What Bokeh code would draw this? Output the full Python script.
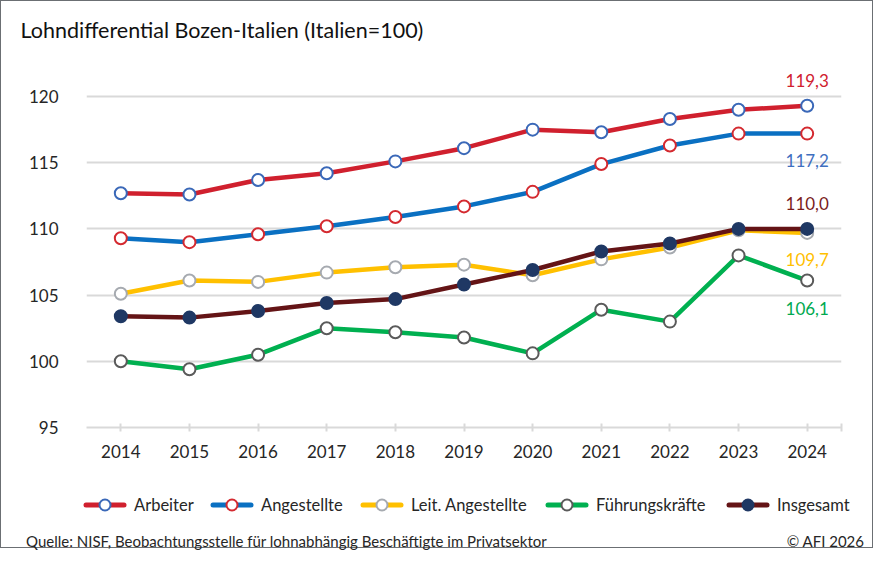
from bokeh.plotting import figure
from bokeh.layouts import column
from bokeh.models import FixedTicker, Label, Div
from bokeh.embed import file_html
from bokeh.resources import INLINE

years = [2014, 2015, 2016, 2017, 2018, 2019, 2020, 2021, 2022, 2023, 2024]
arbeiter = [112.7, 112.6, 113.7, 114.2, 115.1, 116.1, 117.5, 117.3, 118.3, 119.0, 119.3]
angestellte = [109.3, 109.0, 109.6, 110.2, 110.9, 111.7, 112.8, 114.9, 116.3, 117.2, 117.2]
leitende = [105.1, 106.1, 106.0, 106.7, 107.1, 107.3, 106.5, 107.7, 108.6, 109.9, 109.7]
fuehrung = [100.0, 99.4, 100.5, 102.5, 102.2, 101.8, 100.6, 103.9, 103.0, 108.0, 106.1]
insgesamt = [103.4, 103.3, 103.8, 104.4, 104.7, 105.8, 106.9, 108.3, 108.9, 110.0, 110.0]

y_ticks = [95, 100, 105, 110, 115, 120]
title_text = "Lohndifferential Bozen-Italien (Italien=100)"
source_text = "Quelle: NISF, Beobachtungsstelle für lohnabhängig Beschäftigte im Privatsektor"
copyright_text = "© AFI 2026"

FONT = "Lato"
TXT = "#262626"
GRID = "#d9d9d9"
W = 871

p = figure(width=W, height=466, output_backend="svg", toolbar_location=None,
           x_range=(2013.5, 2024.5), y_range=(95, 123.1),
           min_border_left=85, min_border_right=31, min_border_top=54, min_border_bottom=40,
           background_fill_color="white", border_fill_color="white")
p.outline_line_color = None

p.title.text = title_text
p.title.align = "left"
p.title.offset = -66
p.title.standoff = 26
p.title.text_font = FONT
p.title.text_font_size = "21.5px"
p.title.text_font_style = "normal"
p.title.text_color = "#111111"

# axes
p.xaxis.ticker = FixedTicker(ticks=years + [2024.5])
p.xaxis.major_label_overrides = {2024.5: ""}
p.xaxis.axis_line_color = GRID
p.xaxis.axis_line_width = 2
p.xaxis.major_tick_line_color = GRID
p.xaxis.major_tick_line_width = 2
p.xaxis.major_tick_in = 4
p.xaxis.major_tick_out = 4
p.xaxis.minor_tick_line_color = None
p.xaxis.major_label_standoff = 13
p.xaxis.major_label_text_font = FONT
p.xaxis.major_label_text_font_size = "17px"
p.xaxis.major_label_text_color = TXT

p.yaxis.ticker = FixedTicker(ticks=y_ticks)
p.yaxis.axis_line_color = None
p.yaxis.major_tick_line_color = None
p.yaxis.minor_tick_line_color = None
p.yaxis.major_label_standoff = 22
p.yaxis.major_label_text_font = FONT
p.yaxis.major_label_text_font_size = "17px"
p.yaxis.major_label_text_color = TXT

p.xgrid.grid_line_color = None
p.ygrid.grid_line_color = GRID
p.ygrid.grid_line_width = 2

# name, values, line colour, marker fill, marker outline, label colour, label offset
series = [
    ("Führungskräfte", fuehrung, "#00b050", "white", "#5a5a5a", "#00a94f", -28),
    ("Leit. Angestellte", leitende, "#ffc000", "white", "#a6aab0", "#ffc000", -27),
    ("Insgesamt", insgesamt, "#641416", "#1f3864", "#1f3864", "#7b1c1c", 25),
    ("Angestellte", angestellte, "#0a70c2", "white", "#d42a30", "#3f6fbf", -27),
    ("Arbeiter", arbeiter, "#d0202e", "white", "#3a68b8", "#d0202e", 25),
]
styles = {}
for name, vals, lc, fc, mc, labc, off in series:
    p.line(years, vals, line_color=lc, line_width=4.5)
    p.scatter(years, vals, size=12, fill_color=fc, line_color=mc, line_width=2)
    p.add_layout(Label(x=years[-1], y=vals[-1], y_offset=off,
                       text=f"{vals[-1]:.1f}".replace(".", ","),
                       text_align="center", text_baseline="middle",
                       text_font=FONT, text_font_size="17px", text_color=labc))
    styles[name] = (lc, fc, mc)

# legend + source line below the chart
order = ["Arbeiter", "Angestellte", "Leit. Angestellte", "Führungskräfte", "Insgesamt"]
legend_left = [82, 209, 359, 544, 725]
parts = []
for name, left in zip(order, legend_left):
    lc, fc, mc = styles[name]
    parts.append(
        f'<div style="position:absolute;left:{left}px;top:28px;height:20px;white-space:nowrap;">'
        f'<svg width="44" height="20" style="position:absolute;left:0;top:0">'
        f'<line x1="3" y1="10" x2="41" y2="10" stroke="{lc}" stroke-width="5" stroke-linecap="round"/>'
        f'<circle cx="22" cy="10" r="5.5" fill="{fc}" stroke="{mc}" stroke-width="2"/></svg>'
        f'<span style="position:absolute;left:51px;top:0;line-height:20px;">{name}</span></div>')
parts.append(f'<span style="position:absolute;left:25px;top:66px;line-height:16px;'
             f'font-size:15px;white-space:nowrap;">{source_text}</span>')
parts.append(f'<span style="position:absolute;right:8px;top:66px;line-height:16px;'
             f'font-size:15px;white-space:nowrap;">{copyright_text}</span>')
footer = Div(
    text=(f'<div style="position:relative;width:{W}px;height:80px;font-family:Lato;'
          f'font-size:16.5px;color:{TXT};">' + "".join(parts) + '</div>'),
    width=W, height=80, margin=0)

layout = column(p, footer, spacing=0, styles={"border": "1.5px solid #6b6f73"})
open("out.html", "w").write(file_html(layout, INLINE))
